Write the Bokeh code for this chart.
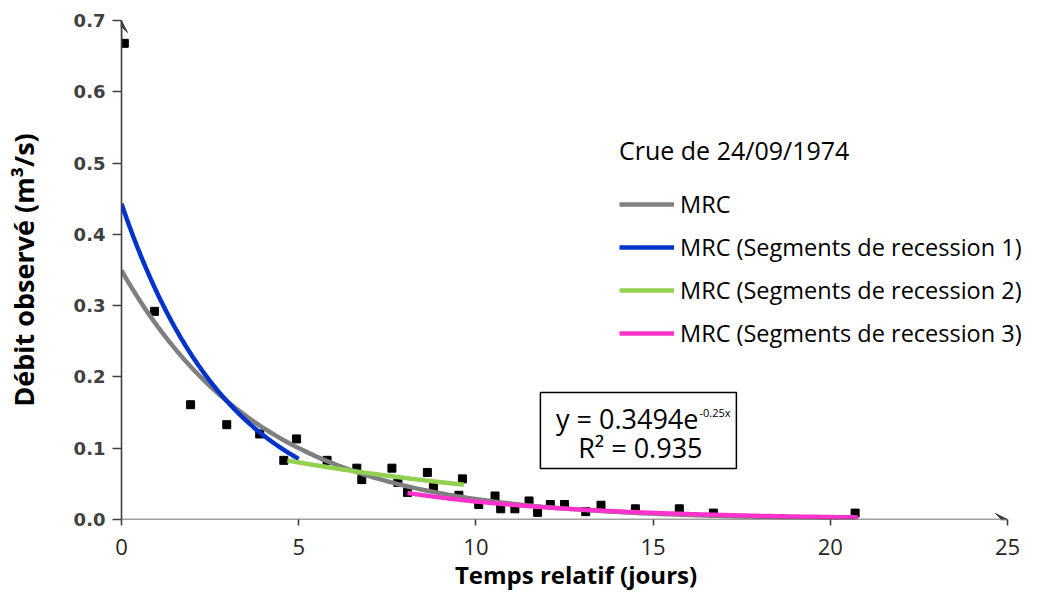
import numpy as np
from bokeh.plotting import figure
from bokeh.models import (Range1d, FixedTicker, NumeralTickFormatter, Legend, LegendItem,
                          Label, BoxAnnotation, Arrow, VeeHead, ColumnDataSource)
from bokeh.embed import file_html
from bokeh.resources import INLINE

# ---------------- data ----------------
x_ticks = [0, 5, 10, 15, 20, 25]
y_ticks = [0.0, 0.1, 0.2, 0.3, 0.4, 0.5, 0.6, 0.7]

# observed discharge (days, m3/s)
t_obs = [0.08, 0.93, 1.95, 2.97, 3.9, 4.58, 4.94, 5.8, 6.64, 6.78, 7.63, 7.8, 8.07, 8.63,
         8.8, 9.52, 9.62, 10.08, 10.54, 10.7, 11.1, 11.5, 11.74, 12.1, 12.5, 13.1, 13.53,
         14.5, 15.74, 16.7, 20.7]
q_obs = [0.668, 0.292, 0.161, 0.133, 0.120, 0.083, 0.113, 0.083, 0.072, 0.056, 0.072,
         0.052, 0.038, 0.066, 0.045, 0.034, 0.057, 0.021, 0.033, 0.015, 0.015, 0.026,
         0.010, 0.021, 0.021, 0.011, 0.020, 0.015, 0.015, 0.009, 0.009]

# master recession curves  q = a * exp(-k t), over [t_start, t_end]
curve_names = ["MRC", "MRC (Segments de recession 1)",
               "MRC (Segments de recession 2)", "MRC (Segments de recession 3)"]
curve_a = [0.3494, 0.443, 0.136, 0.187]
curve_k = [0.25, 0.33, 0.106, 0.20]
curve_t0 = [0.0, 0.0, 4.68, 8.07]
curve_t1 = [20.7, 5.0, 9.66, 20.78]
curve_colors = ["#7f7f7f", "#0033cc", "#92d050", "#ff33cc"]

eq_text = "y = 0.3494e"
eq_sup = "-0.25x"
r2_text = "R\u00b2 = 0.935"
legend_title = "Crue de 24/09/1974"
x_title = "Temps relatif (jours)"
y_title = "D\u00e9bit observ\u00e9 (m\u00b3/s)"
x_axis_end = 25

# ---------------- figure ----------------
p = figure(width=1030, height=594, x_range=Range1d(0, 25.649), y_range=Range1d(0, 0.7),
           output_backend="svg", toolbar_location=None,
           min_border_left=121, min_border_right=0, min_border_top=20, min_border_bottom=75)
p.outline_line_color = None
p.grid.grid_line_color = None
p.background_fill_color = "white"

axis_col = "#404040"
p.xaxis.ticker = FixedTicker(ticks=x_ticks)
p.yaxis.ticker = FixedTicker(ticks=y_ticks)
p.yaxis.formatter = NumeralTickFormatter(format="0.0")
for ax in (p.xaxis[0], p.yaxis[0]):
    ax.axis_line_color = axis_col
    ax.axis_line_width = 1.6
    ax.major_tick_line_color = axis_col
    ax.major_tick_line_width = 1.6
    ax.major_tick_in = 0
    ax.minor_tick_line_color = None
p.xaxis.axis_line_color = None   # drawn as an arrow up to x = 25 below
p.xaxis.major_tick_out = 6
p.yaxis.major_tick_out = 9

p.xaxis.major_label_text_font = "Open Sans"
p.xaxis.major_label_text_font_size = "22px"
p.xaxis.major_label_text_color = "#262626"
p.xaxis.major_label_standoff = 13
p.yaxis.major_label_text_font = "DejaVu Sans"
p.yaxis.major_label_text_font_style = "bold"
p.yaxis.major_label_text_font_size = "18px"
p.yaxis.major_label_text_color = "#404040"
p.yaxis.major_label_standoff = 7

for ax in (p.xaxis[0], p.yaxis[0]):
    ax.axis_label_text_font = "Open Sans"
    ax.axis_label_text_font_style = "bold"
    ax.axis_label_text_color = "black"
p.yaxis.axis_label = y_title
p.yaxis.axis_label_text_font_size = "27px"
p.yaxis.axis_label_standoff = 29
p.xaxis.axis_label = x_title
p.xaxis.axis_label_text_font_size = "24px"
p.xaxis.axis_label_standoff = 0

# observed points (drawn first, lines on top)
p.scatter(t_obs, q_obs, marker="square", size=8, fill_color="black", line_color="black")

items = []
for name, a, k, t0, t1, col in zip(curve_names, curve_a, curve_k, curve_t0, curve_t1, curve_colors):
    t = np.linspace(t0, t1, 200)
    src = ColumnDataSource(dict(x=t, y=a * np.exp(-k * t)))
    r = p.line("x", "y", source=src, line_color=col, line_width=4.5)
    items.append(LegendItem(label=name, renderers=[r]))

legend = Legend(items=items, title=legend_title, location=(498, 170),
                orientation="vertical", padding=0, margin=0,
                border_line_color=None, background_fill_alpha=0,
                label_text_font="Open Sans", label_text_font_size="23.5px",
                label_text_color="black",
                title_text_font="Open Sans", title_text_font_size="25px",
                title_text_font_style="normal", title_text_color="black",
                title_standoff=21, glyph_width=55, glyph_height=20,
                label_standoff=6, spacing=11)
p.add_layout(legend, "center")

# equation box
p.add_layout(BoxAnnotation(left=11.82, right=17.35, bottom=0.0715, top=0.1781,
                           fill_alpha=0, line_color="black", line_alpha=1, line_width=1.5))
p.add_layout(Label(x=16.28, y=0.1417, text=eq_text, text_align="right",
                   text_baseline="alphabetic", text_font="Open Sans",
                   text_font_size="27px", text_color="black"))
p.add_layout(Label(x=16.31, y=0.150, text=eq_sup, text_align="left",
                   text_baseline="alphabetic", text_font="Open Sans",
                   text_font_size="11px", text_color="black"))
p.add_layout(Label(x=14.64, y=0.101, text=r2_text, text_align="center",
                   text_baseline="alphabetic", text_font="Open Sans",
                   text_font_size="27px", text_color="black"))

# axis lines with arrow heads
p.add_layout(Arrow(end=VeeHead(size=12, fill_color=axis_col, line_color=axis_col),
                   x_start=0, y_start=0, x_end=x_axis_end, y_end=0,
                   line_color=axis_col, line_width=1.6))
p.add_layout(Arrow(end=VeeHead(size=12, fill_color=axis_col, line_color=axis_col),
                   x_start=0, y_start=0.67, x_end=0, y_end=0.7,
                   line_color=axis_col, line_width=1.6))

open("out.html", "w").write(file_html(p, INLINE))
